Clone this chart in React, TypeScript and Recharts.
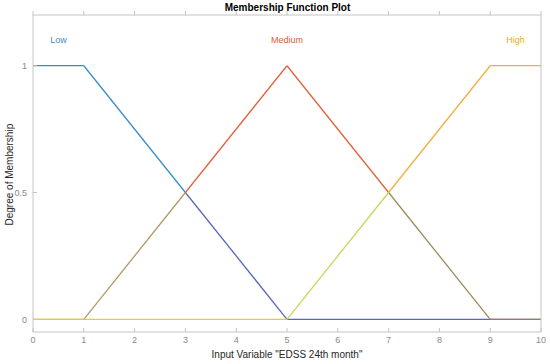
import React from 'react';
import {
    LineChart, Line, XAxis, YAxis, Scatter,
} from 'recharts';

// Membership functions of "EDSS 24th month"
const xTicks = [0, 1, 2, 3, 4, 5, 6, 7, 8, 9, 10];
const yTicks = [0, 0.5, 1];

const lowX = [0, 1, 3, 5, 10];
const lowY = [1, 1, 0.5, 0, 0];
const lowColors = ['#2f8fc6', '#3a8fc6', '#5a66b6', '#5b67b7'];

const mediumX = [0, 1, 3, 5, 7, 9, 10];
const mediumY = [0, 0, 0.5, 1, 0.5, 0, 0];
const mediumColors = ['#d4cc46', '#b19a62', '#e0623c', '#e0623c', '#9c8b5e', '#8f8350'];

const highX = [0, 5, 7, 9, 10];
const highY = [0, 0, 0.5, 1, 1];
const highColors = ['#d6d044', '#cdd25a', '#f1b03e', '#f1b03e'];

const mfNames = ['Low', 'Medium', 'High'];
const mfLabelX = [0.5, 5, 9.5];
const mfLabelY = [1.1, 1.1, 1.1];
const mfLabelColors = ['#3a8ec2', '#d8602e', '#efa72e'];

const FONT = '"Liberation Sans", Arial, Helvetica, sans-serif';

function segments(xs: number[], ys: number[], colors: string[], id: string) {
    return colors.map((c, i) => ({
        key: `${id}-${i}`,
        color: c,
        data: [
            { x: xs[i], y: ys[i] },
            { x: xs[i + 1], y: ys[i + 1] },
        ],
    }));
}

const allSegments = [
    ...segments(lowX, lowY, lowColors, 'low'),
    ...segments(mediumX, mediumY, mediumColors, 'medium'),
    ...segments(highX, highY, highColors, 'high'),
];

const labelData = mfNames.map((n, i) => ({ x: mfLabelX[i], y: mfLabelY[i], name: n, color: mfLabelColors[i] }));

const MfLabel = (props: any) => {
    const { cx, cy, payload } = props;
    return (
        <text x={cx} y={cy} textAnchor="middle" dominantBaseline="central"
            fontSize={9} fontFamily={FONT} fill={payload.color}>
            {payload.name}
        </text>
    );
};

export default function App() {
    return (
        <div style={{ position: 'absolute', left: 0, top: 0, width: 550, height: 364, background: '#fff', fontFamily: FONT }}>
            <div style={{ position: 'absolute', left: 0, top: 2, width: 575, textAlign: 'center', fontSize: 10, fontWeight: 'bold', color: '#000' }}>
                Membership Function Plot
            </div>
            <LineChart width={550} height={364} margin={{ top: 14, right: 8, bottom: 12, left: 3 }}>
                <XAxis xAxisId="b" dataKey="x" type="number" domain={[0, 10]} ticks={xTicks}
                    allowDataOverflow height={20} stroke="#c4c4c4" tickSize={-4} tickMargin={9}
                    tick={{ fill: '#8a8a8a', fontSize: 9, fontFamily: FONT }}
                    label={{ value: 'Input Variable "EDSS 24th month"', position: 'bottom', offset: -1, fill: '#262626', fontSize: 10, fontFamily: FONT }} />
                <XAxis xAxisId="t" orientation="top" dataKey="x" type="number" domain={[0, 10]} ticks={xTicks}
                    allowDataOverflow height={1} stroke="#c4c4c4" tickSize={4} tickFormatter={() => ''} />
                <YAxis yAxisId="l" type="number" domain={[-0.05, 1.2]} ticks={yTicks} allowDataOverflow
                    width={30} stroke="#c4c4c4" tickSize={-4} tickMargin={10}
                    tick={{ fill: '#8a8a8a', fontSize: 9, fontFamily: FONT }}
                    label={{ value: 'Degree of Membership', angle: -90, position: 'insideLeft', offset: 6, dy: 52, fill: '#262626', fontSize: 10, fontFamily: FONT }} />
                <YAxis yAxisId="r" orientation="right" type="number" domain={[-0.05, 1.2]} ticks={yTicks}
                    allowDataOverflow width={1} stroke="#c4c4c4" tick={false} tickLine={false} />
                {allSegments.map((s) => (
                    <Line key={s.key} xAxisId="b" yAxisId="l" data={s.data} dataKey="y" type="linear"
                        stroke={s.color} strokeWidth={1.3} dot={false} activeDot={false} isAnimationActive={false} />
                ))}
                <Scatter xAxisId="b" yAxisId="l" data={labelData} dataKey="y" shape={MfLabel} isAnimationActive={false} />
            </LineChart>
        </div>
    );
}
